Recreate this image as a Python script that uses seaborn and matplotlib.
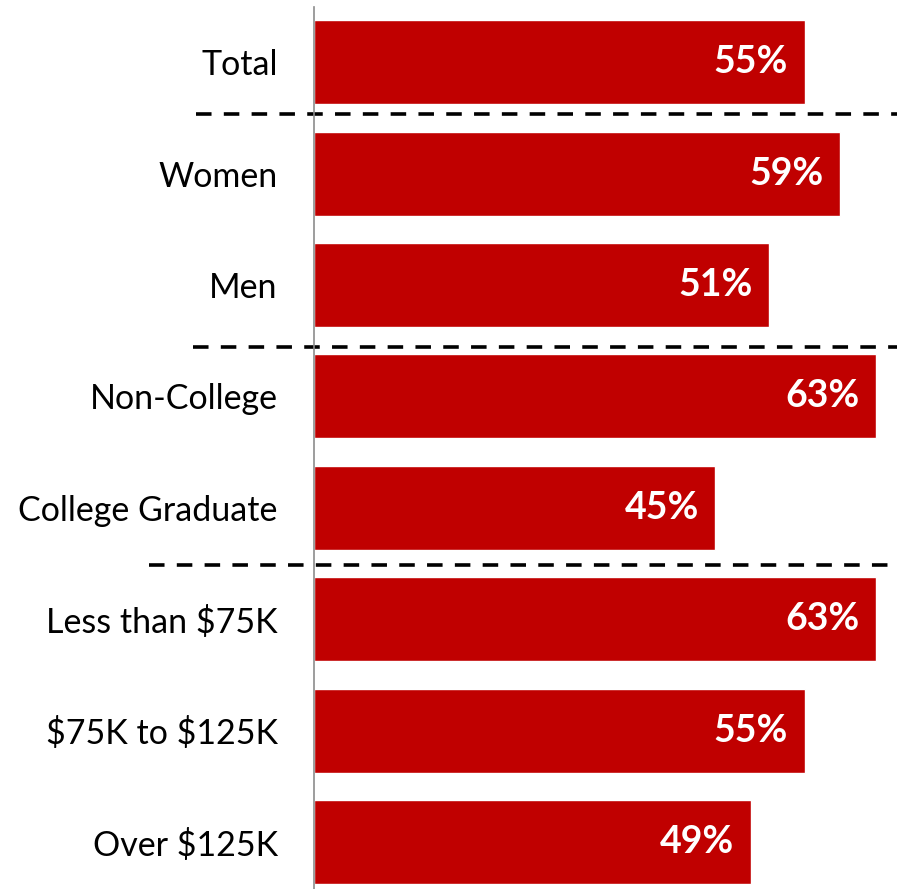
import matplotlib
matplotlib.use("Agg")
import matplotlib.pyplot as plt
import matplotlib.transforms as mtransforms
import seaborn as sns
import pandas as pd

categories = ["Total", "Women", "Men", "Non-College", "College Graduate",
              "Less than $75K", "$75K to $125K", "Over $125K"]
values = [55, 59, 51, 63, 45, 63, 55, 49]
value_labels = [f"{v}%" for v in values]

BAR_COLOR = "#C00000"

sns.set_theme(style="white")
plt.rcParams["font.family"] = ["Lato", "DejaVu Sans"]
plt.rcParams["text.parse_math"] = False

df = pd.DataFrame({"group": categories, "share": values})

fig = plt.figure(figsize=(8.97, 8.89), dpi=100)
ax = fig.add_axes([0.350, 0.0, 0.650, 0.992])

sns.barplot(data=df, x="share", y="group", order=categories,
            color=BAR_COLOR, saturation=1, width=0.754, ax=ax)

ax.set_xlim(0, 65.36)
ax.set_ylim(7.42, -0.494)

for i, (v, lab) in enumerate(zip(values, value_labels)):
    ax.text(v - 1.85, i, lab, ha="right", va="center", color="white",
            fontsize=27, fontweight="bold")

# group separators, extending into the label area
trans = mtransforms.blended_transform_factory(ax.transAxes, ax.transData)
for y, x0 in [(0.467, -0.203), (2.558, -0.208), (4.514, -0.283)]:
    ax.plot([x0, 1.0], [y, y], transform=trans, color="black",
            linewidth=2.6, linestyle=(0, (4.3, 3.4)), clip_on=False,
            solid_capstyle="butt", dash_capstyle="butt")

ax.set_xlabel("")
ax.set_ylabel("")
ax.set_xticks([])
ax.tick_params(axis="y", length=0, pad=26, labelsize=24.5, colors="black")
for s in ["top", "right", "bottom"]:
    ax.spines[s].set_visible(False)
ax.spines["left"].set_color("#8c8c8c")
ax.spines["left"].set_linewidth(1.2)

fig.savefig("out.png", dpi=100)
